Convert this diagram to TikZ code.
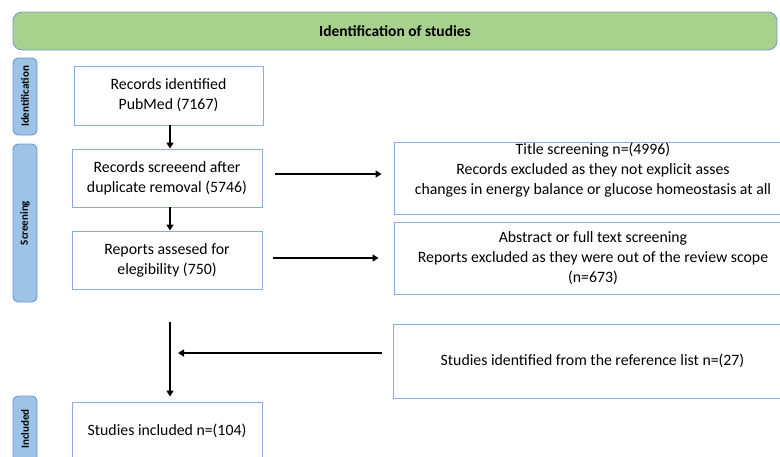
\documentclass[tikz,border=0pt]{standalone}
\usepackage{fontspec}
\setmainfont{Carlito}
\usetikzlibrary{arrows.meta,calc}
\definecolor{bannerfill}{HTML}{A9D18E}
\definecolor{bannerdraw}{HTML}{7F9CC8}
\definecolor{sidefill}{HTML}{9DC3E6}
\definecolor{sidedraw}{HTML}{6C96D0}
\definecolor{boxdraw}{HTML}{8EA9DB}
\tikzset{
  stagebox/.style={draw=boxdraw, line width=0.9pt, fill=white, inner sep=0pt, align=center,
    font=\fontsize{15.8}{20}\selectfont},
  stagetext/.style={inner sep=0pt, align=center, font=\fontsize{15.8}{20}\selectfont},
  sidelabel/.style={draw=sidedraw, fill=sidefill, line width=0.9pt, rounded corners=5pt,
    minimum height=24pt, inner sep=0pt, font=\fontsize{11}{13}\selectfont\bfseries},
  arr/.style={line width=1.9pt, -{Triangle[length=6pt,width=7pt]}},
}
\begin{document}
\begin{tikzpicture}[x=1pt,y=-1pt]
\useasboundingbox (0,0) rectangle (780,456);
\clip (0,0) rectangle (780,456);
% banner
\node[draw=bannerdraw, fill=bannerfill, line width=0.9pt, rounded corners=9pt,
  minimum width=764pt, minimum height=38pt, inner sep=0pt,
  font=\fontsize{15.5}{18}\selectfont\bfseries] (title) at (395,31) {Identification of studies};
% side labels
\node[sidelabel, minimum width=77pt, rotate=90] (sid) at (25,96.5) {Identification};
\node[sidelabel, minimum width=158pt, rotate=90] (sscr) at (25,223) {Screening};
\node[sidelabel, minimum width=66pt, rotate=90] (sinc) at (25,429) {Included};
% left boxes
\node[stagebox, minimum width=189pt, minimum height=59pt] (b1) at (168.5,95.5) {Records identified\\PubMed (7167)};
\node[stagebox, minimum width=190pt, minimum height=58pt] (b2) at (167,178) {Records screeend after\\duplicate removal (5746)};
\node[stagebox, minimum width=190pt, minimum height=58pt] (b3) at (167,260) {Reports assesed for\\elegibility (750)};
\node[stagebox, minimum width=190pt, minimum height=58pt] (b4) at (167,431) {Studies included n=(104)};
% right boxes
\node[stagebox, minimum width=398pt, minimum height=72pt] (r1) at (593,178) {};
\node[stagetext] (r1t) at ([yshift=8pt]r1.center) {Title screening n=(4996)\\Records excluded as they not explicit asses\\changes in energy balance or glucose homeostasis at all};
\node[stagebox, minimum width=398pt, minimum height=72pt] (r2) at (593,258) {Abstract or full text screening\\Reports excluded as they were out of the review scope\\(n=673)};
\node[stagebox, minimum width=399pt, minimum height=74pt] (r3) at (592.5,361) {Studies identified from the reference list n=(27)};
% connectors
\coordinate (j) at (170,322);
\coordinate (m) at (170,353);
\draw[arr] ([xshift=1.5pt]b1.south) -- ([xshift=3pt]b2.north);
\draw[arr] ([xshift=3pt]b2.south) -- ([xshift=3pt]b3.north);
\draw[arr, shorten <=13pt, shorten >=12pt] ([yshift=4pt]b2.east) -- ([yshift=4pt]r1.west |- b2.east);
\draw[arr, shorten <=11pt, shorten >=15pt] ([yshift=2pt]b3.east) -- ([yshift=2pt]r2.west |- b3.east);
\draw[arr, shorten >=5pt] (j) -- (b4.north -| j);
\draw[arr, shorten <=11pt, shorten >=8pt] ([yshift=8pt]r3.west) -- (m);
\end{tikzpicture}
\end{document}
